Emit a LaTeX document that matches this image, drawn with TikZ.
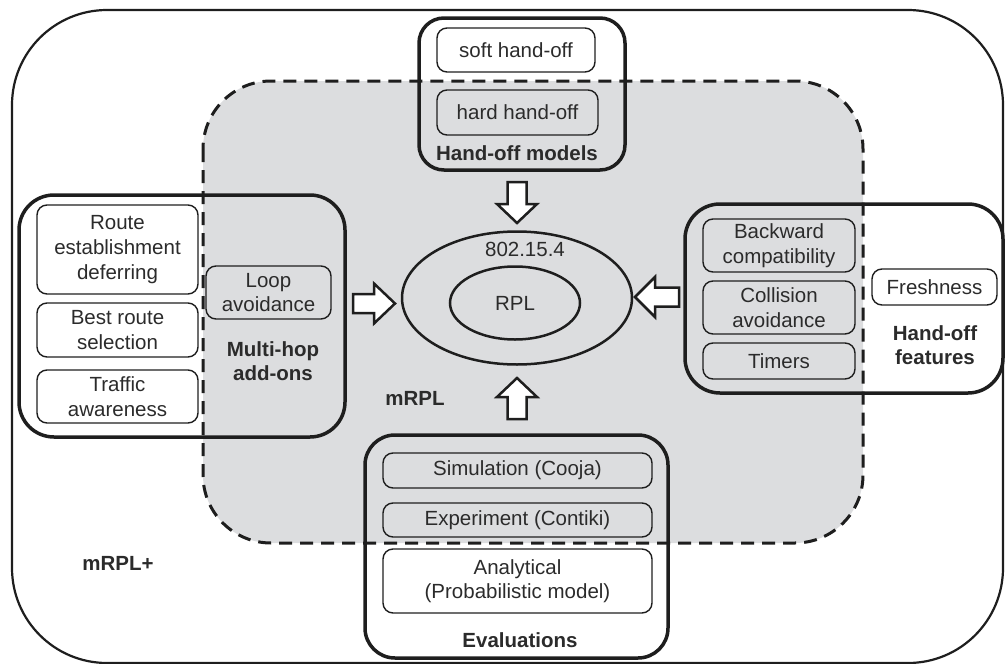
\documentclass[tikz,border=0pt]{standalone}
\usepackage{fontspec}
\setmainfont{Liberation Sans}
\usetikzlibrary{shapes.geometric}
\definecolor{areagrey}{HTML}{DCDDDF}
\definecolor{ink}{HTML}{1E1E1E}
\definecolor{txt}{HTML}{2B2B2B}
\begin{document}
\begin{tikzpicture}[x=1pt,y=-1pt,
  every node/.style={font=\fontsize{20.5}{24.6}\selectfont, text=txt, inner sep=0pt, outer sep=0pt, align=center},
  outerbox/.style={draw=ink, line width=2.2pt, rounded corners=95pt, rectangle},
  grp/.style={draw=ink, line width=3.5pt, rectangle},
  item/.style={draw=ink, line width=1.4pt, rounded corners=10pt, rectangle},
  grplabel/.style={font=\bfseries\fontsize{20.5}{24.6}\selectfont},
  blk/.style={draw=ink, fill=white, line width=2.5pt, line join=miter},
  oval/.style={draw=ink, line width=2.5pt, ellipse},
]
\useasboundingbox (0,0) rectangle (1005,664);

% outer mRPL+ region
\node[outerbox, minimum width=991pt, minimum height=653pt] (plus) at (507.5,336.5) {};
% grey mRPL region (fill only; dashed border drawn later)
\node[fill=areagrey, rounded corners=68pt, minimum width=660pt, minimum height=462pt] (area) at (533,312) {};

% Hand-off models
\node[grp, rounded corners=25pt, minimum width=206pt, minimum height=152pt] (hm) at (522,94) {};
\node[item, minimum width=158pt, minimum height=44pt] (soft) at (516,50) {soft hand-off};
\node[item, minimum width=161pt, minimum height=45pt] (hard) at (517.5,112.5) {hard hand-off};
\node[grplabel] (hmlabel) at (517,153) {Hand-off models};

% Multi-hop add-ons
\node[grp, rounded corners=35pt, minimum width=326pt, minimum height=242pt] (mh) at (182,316) {};
\node[item, minimum width=161pt, minimum height=89pt] (route) at (117.5,249.5) {Route\\establishment\\deferring};
\node[item, minimum width=161pt, minimum height=54pt] (best) at (117.5,330) {Best route\\selection};
\node[item, minimum width=161pt, minimum height=53pt] (traffic) at (117.5,396.5) {Traffic\\awareness};
\node[item, minimum width=125pt, minimum height=53pt] (loop) at (268.5,292.5) {Loop\\avoidance};
\node[grplabel] (mhlabel) at (273,361) {Multi-hop\\add-ons};

% Hand-off features
\node[grp, rounded corners=35pt, minimum width=318pt, minimum height=189pt] (hf) at (844,298.5) {};
\node[item, minimum width=152pt, minimum height=53pt] (backward) at (779,245.5) {Backward\\compatibility};
\node[item, minimum width=152pt, minimum height=53pt] (collision) at (779,307.5) {Collision\\avoidance};
\node[item, minimum width=152pt, minimum height=36pt] (timers) at (779,361) {Timers};
\node[item, minimum width=125pt, minimum height=36pt] (fresh) at (934.5,287) {Freshness};
\node[grplabel] (hflabel) at (935,345) {Hand-off\\features};

% Evaluations
\node[grp, rounded corners=30pt, minimum width=303pt, minimum height=223pt] (ev) at (516.5,546.5) {};
\node[item, minimum width=269pt, minimum height=35pt] (sim) at (517.5,470.5) {Simulation (Cooja)};
\node[item, minimum width=269pt, minimum height=34pt] (exp) at (517.5,520) {Experiment (Contiki)};
\node[item, minimum width=269pt, minimum height=64pt] (ana) at (517.5,581) {Analytical\\(Probabilistic model)};
\node[grplabel] (evlabel) at (520,640) {Evaluations};

% dashed border of mRPL region
\draw[ink, line width=3pt, dash pattern=on 13pt off 8pt, rounded corners=68pt] (area.north west) rectangle (area.south east);

% core ellipses
\node[oval, minimum width=230pt, minimum height=133pt] (mac) at (517,298) {};
\node[oval, minimum width=130pt, minimum height=73pt] (rpl) at (515,303) {RPL};
\node (maclabel) at (525,249) {802.15.4};

% region labels
\node[grplabel] (mrpl) at (415,398) {mRPL};
\node[grplabel] (mrplplus) at (118,563) {mRPL+};

% block arrows
\coordinate (dtip) at (517,223);
\coordinate (utip) at (517,378);
\coordinate (rtip) at (395,303.5);
\coordinate (ltip) at (635,297);
\draw[blk] (dtip) -- ++(20,-19) -- ++(-10.5,0) -- ++(0,-22) -- ++(-19,0) -- ++(0,22) -- ++(-10.5,0) -- cycle;
\draw[blk] (utip) -- ++(20,19) -- ++(-10.5,0) -- ++(0,22) -- ++(-19,0) -- ++(0,-22) -- ++(-10.5,0) -- cycle;
\draw[blk] (rtip) -- ++(-21,-20) -- ++(0,10.5) -- ++(-21,0) -- ++(0,19) -- ++(21,0) -- ++(0,10.5) -- cycle;
\draw[blk] (ltip) -- ++(20,-20) -- ++(0,10.5) -- ++(24,0) -- ++(0,19) -- ++(-24,0) -- ++(0,10.5) -- cycle;
\end{tikzpicture}
\end{document}
